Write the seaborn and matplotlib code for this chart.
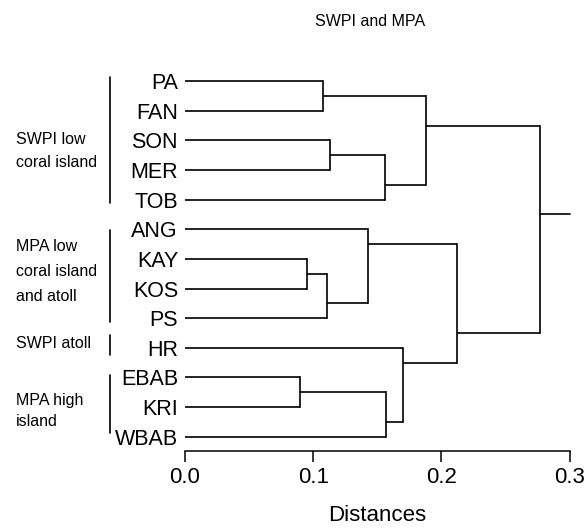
import numpy as np
import pandas as pd
import matplotlib
matplotlib.use("Agg")
import matplotlib.pyplot as plt
import matplotlib.transforms as mtransforms
import seaborn as sns

# leaves of the tree, top to bottom
leaves = ["PA", "FAN", "SON", "MER", "TOB", "ANG", "KAY", "KOS", "PS",
          "HR", "EBAB", "KRI", "WBAB"]

# joins: left node, right node, distance (new nodes are numbered from 13 on)
join_left = [0, 2, 14, 13, 6, 17, 5, 10, 20, 9, 19, 16]
join_right = [1, 3, 4, 15, 7, 8, 18, 11, 12, 21, 22, 23]
join_dist = [0.108, 0.113, 0.156, 0.188, 0.095, 0.111, 0.143, 0.090,
             0.157, 0.170, 0.212, 0.277]
root_end = 0.30

# groups written on the left
group_names = ["SWPI low\ncoral island", "MPA low\ncoral island\nand atoll",
               "SWPI atoll", "MPA high\nisland"]
group_first = [0, 5, 9, 10]
group_last = [4, 8, 9, 12]

xticks = [0.0, 0.1, 0.2, 0.3]

sns.set_theme(style="white")
plt.rcParams["font.family"] = ["Liberation Sans", "DejaVu Sans"]
plt.rcParams["text.color"] = "black"
plt.rcParams["xtick.color"] = "black"
plt.rcParams["ytick.color"] = "black"
plt.rcParams["axes.labelcolor"] = "black"

fig = plt.figure(figsize=(5.86, 5.28), dpi=100)
ax = fig.add_axes([0.3157, 0.1464, 0.6565, 0.728])

# work out positions of each node
n = len(leaves)
node_x = [0.0] * n
node_y = [float(i) for i in range(n)]
node_last = list(range(n))
for l, r, d in zip(join_left, join_right, join_dist):
    node_x.append(d)
    node_y.append(node_last[l] + 0.5)
    node_last.append(node_last[r])

lw = 1.2
for k, (l, r, d) in enumerate(zip(join_left, join_right, join_dist)):
    for c in (l, r):
        ax.plot([node_x[c], d], [node_y[c], node_y[c]], color="black", lw=lw,
                solid_capstyle="butt", clip_on=False)
    ax.plot([d, d], [node_y[l], node_y[r]], color="black", lw=lw,
            solid_capstyle="projecting", clip_on=False)

# root tail
ax.plot([node_x[-1], root_end], [node_y[-1], node_y[-1]], color="black", lw=lw,
        clip_on=False)

ax.set_xlim(0, 0.3)
ax.set_ylim(12.47, -0.5)
for s in ["top", "right", "left"]:
    ax.spines[s].set_visible(False)
ax.spines["bottom"].set_color("black")
ax.spines["bottom"].set_linewidth(1.1)

ax.set_xticks(xticks)
ax.set_xticklabels([f"{t:.1f}" for t in xticks], fontsize=16)
ax.tick_params(axis="x", direction="out", length=8, width=1.1, color="black",
               pad=4, bottom=True)
ax.set_xlabel("Distances", fontsize=16, labelpad=12)

ax.set_yticks(range(n))
ax.set_yticklabels(leaves, fontsize=15.5)
ax.tick_params(axis="y", length=0, pad=5)

# group brackets and names on the left
tr = mtransforms.blended_transform_factory(fig.transFigure, ax.transData)
bracket_top = [-0.13, 5.03, 8.57, 9.92]
bracket_bottom = [4.12, 8.13, 9.24, 11.88]
text_y = [2.36, 6.43, 8.84, 11.13]
text_spacing = [1.6, 1.85, 1.6, 1.55]
for name, t, b, ty, sp in zip(group_names, bracket_top, bracket_bottom, text_y, text_spacing):
    ax.plot([110 / 586, 110 / 586], [t, b], color="black", lw=1.2,
            transform=tr, clip_on=False)
    ax.text(16 / 586, ty, name, transform=tr, ha="left", va="center",
            fontsize=11.5, linespacing=sp)

fig.text(370 / 586, 1 - 21 / 528, "SWPI and MPA", ha="center", va="center",
         fontsize=11.5)

fig.savefig("out.png", dpi=100)
